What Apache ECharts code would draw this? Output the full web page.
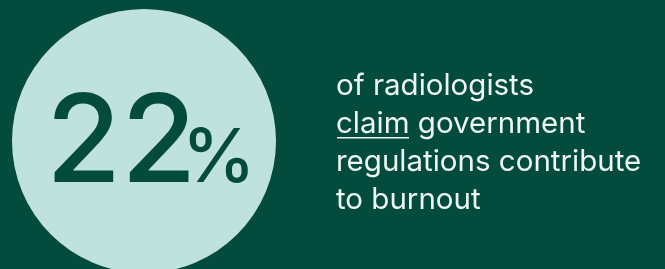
<!DOCTYPE html>
<html>
<head>
<meta charset="utf-8">
<script src="https://cdn.jsdelivr.net/npm/echarts@6/dist/echarts.min.js"></script>
<style>
  html, body { margin: 0; padding: 0; background: #024b3d; }
  #chart { width: 665px; height: 269px; }
</style>
</head>
<body>
<div id="chart"></div>
<script>
  // stat shown in the disc
  var statValue = [22];
  var statUnit = "%";
  // caption, one entry per line; first word of line 2 is underlined
  var captionLines = ["of radiologists", "claim government", "regulations contribute", "to burnout"];
  var underlinedWord = "claim";

  var BG = "#024b3d";
  var DISC = "#bfe3dc";
  var INK = "#024b3d";
  var FONT = "Inter, 'Noto Sans', sans-serif";

  var chart = echarts.init(document.getElementById("chart"), null, { renderer: "canvas" });

  chart.setOption({
    backgroundColor: BG,
    animation: false,
    series: [
      {
        type: "pie",
        silent: true,
        z: 1,
        center: [144, 141],
        radius: [0, 132],
        label: { show: false },
        labelLine: { show: false },
        itemStyle: { color: DISC, borderWidth: 0 },
        data: [{ value: statValue[0], name: "stat" }]
      }
    ],
    graphic: [
      {
        type: "text",
        z: 100,
        left: 46,
        top: 84,
        style: {
          text: String(statValue[0]),
          font: "500 122px " + FONT,
          fill: INK
        }
      },
      {
        type: "text",
        z: 100,
        left: 182,
        top: 123,
        style: {
          text: statUnit,
          font: "500 74px " + FONT,
          fill: INK
        }
      },
      {
        type: "text",
        z: 100,
        left: 336,
        top: 67,
        style: {
          text: captionLines.join("\n"),
          font: "400 29.5px " + FONT,
          lineHeight: 38,
          fill: "#eef6f3"
        }
      },
      {
        type: "rect",
        z: 100,
        shape: { x: 337, y: 137, width: 72, height: 1.6 },
        style: { fill: "#eef6f3" }
      }
    ]
  });
</script>
</body>
</html>
